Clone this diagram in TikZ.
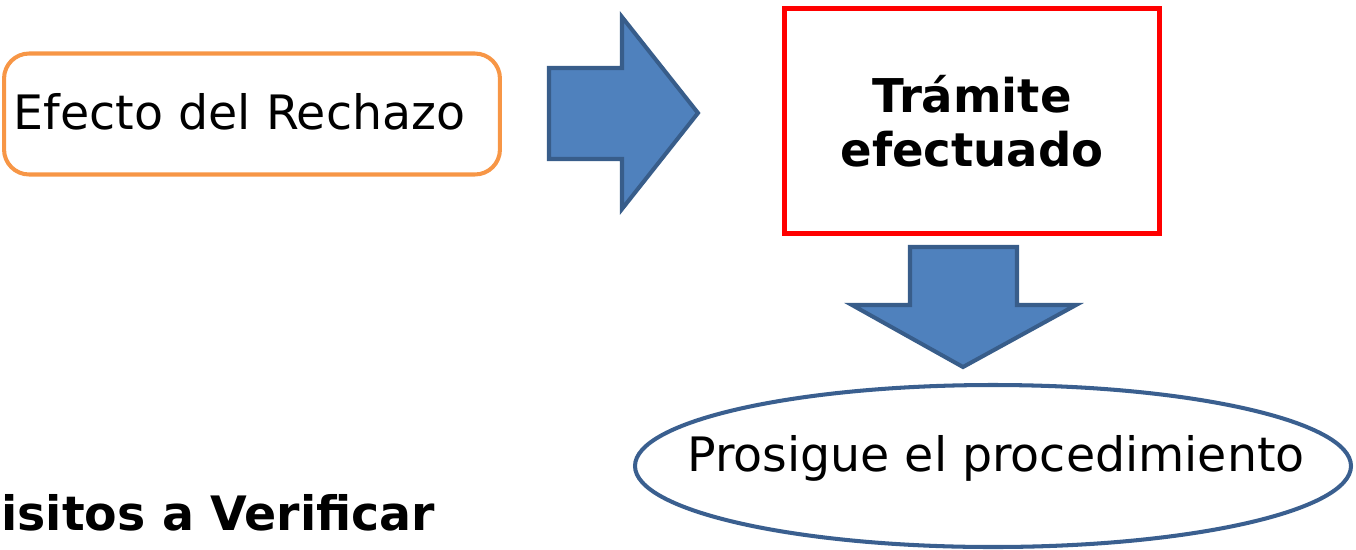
\documentclass[tikz,border=0pt]{standalone}
\usepackage{fontspec}
\setmainfont{DejaVu Sans}
\definecolor{efectoline}{HTML}{F79646}
\definecolor{flechafill}{HTML}{4F81BD}
\definecolor{flechaline}{HTML}{385D8A}
\definecolor{ovalline}{HTML}{3A5F8F}

\begin{document}
\begin{tikzpicture}[x=0.02cm,y=-0.02cm,
  flecha/.style={fill=flechafill, draw=flechaline, line width=2.3pt, line join=miter},
  textogrande/.style={font=\fontsize{27}{32}\selectfont}]
			%%%%% START %%%%%
			\useasboundingbox (0,0) rectangle (1356,549);
			
			\node[draw=efectoline, line width=2.3pt, rounded corners=0.5cm, minimum width=9.92cm, minimum height=2.42cm, textogrande] (efecto) at (252,114) {\raisebox{3pt}{Efecto del Rechazo}\kern0.5cm};
			
			\draw[flecha] (549,68) -- (622,68) -- (622,17) -- (698,113) -- (622,209) -- (622,159) -- (549,159) -- cycle;
			
			\node[draw=red, line width=2.4pt, minimum width=7.5cm, minimum height=4.5cm, align=center, font=\bfseries\fontsize{26.5}{31}\selectfont] (tramite) at (972,121) {Trámite\\efectuado};
			
			\draw[flecha] (910,247) -- (1017,247) -- (1017,305) -- (1076,305) -- (963,367) -- (852,305) -- (910,305) -- cycle;
			
			\node[textogrande] (prosigue) at (996,458) {Prosigue el procedimiento};
			\draw[draw=ovalline, line width=2.3pt] (993,466) ellipse [x radius=358, y radius=81];
			
			\node[anchor=base west, inner sep=0pt, font=\bfseries\fontsize{27}{32}\selectfont] (requisitos) at (1,530) {isitos a Verificar};
			
			%%%%% END %%%%%
\end{tikzpicture}
\end{document}
